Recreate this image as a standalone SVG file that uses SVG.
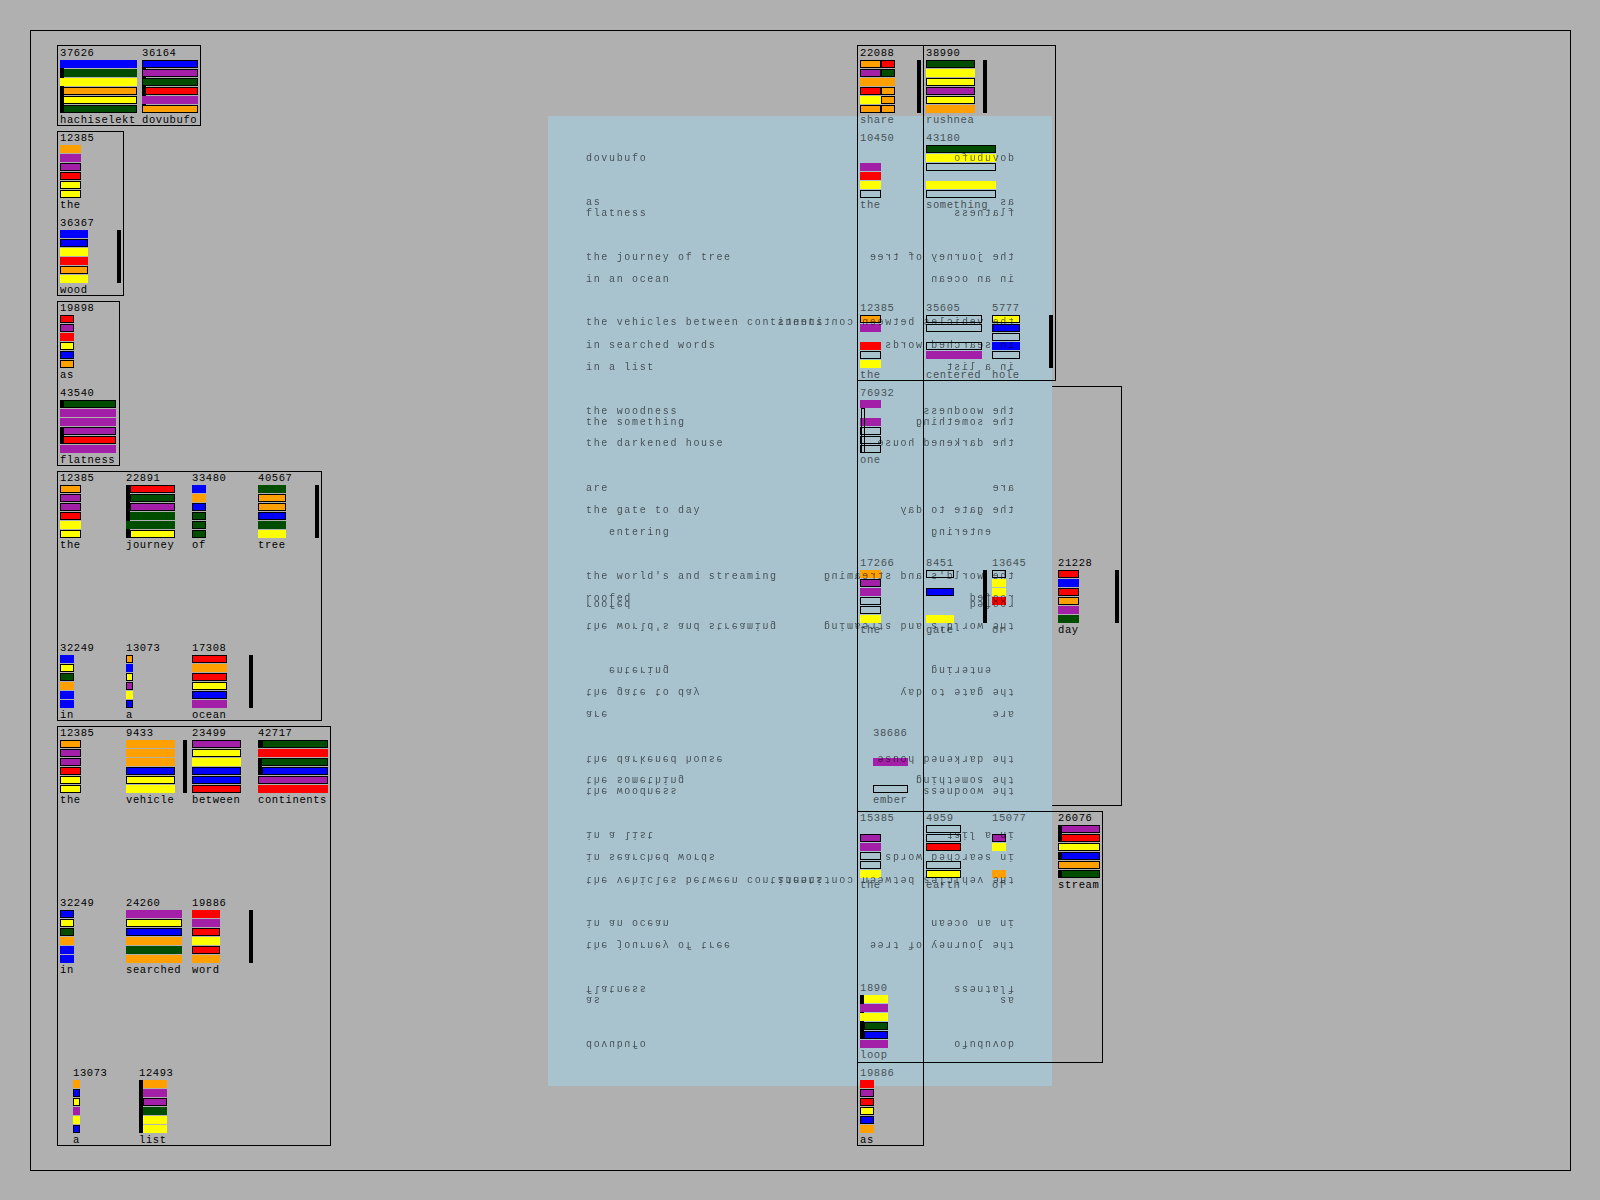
<svg xmlns="http://www.w3.org/2000/svg" xmlns:xlink="http://www.w3.org/1999/xlink" width="1600" height="1200" viewBox="0 0 1600 1200">
<style>
.b{fill:#0000ff}.g{fill:#004d00}.y{fill:#ffff00}.o{fill:#ffa000}.r{fill:#ff0000}.p{fill:#a31fa8}.k{fill:#000}
.s{stroke:#000;stroke-width:1}
.e{fill:none;stroke:#000;stroke-width:1}
.frame{fill:none;stroke:#000;stroke-width:1}
text{font-family:"Liberation Mono","DejaVu Sans Mono",monospace}
.n{font-size:10.5px;letter-spacing:0.6px;fill:#000}
.d{opacity:.6}
.ov text{font-size:10px;letter-spacing:1.67px;fill:#000}
</style>
<defs>
<g id="poem" class="ov">
<text x="586" y="161">dovubufo</text>
<text x="586" y="205">as</text>
<text x="586" y="216">flatness</text>
<text x="586" y="260">the journey of tree</text>
<text x="586" y="282">in an ocean</text>
<text x="586" y="325">the vehicles between continents</text>
<text x="586" y="348">in searched words</text>
<text x="586" y="370">in a list</text>
<text x="586" y="414">the woodness</text>
<text x="586" y="425">the something</text>
<text x="586" y="446">the darkened house</text>
<text x="586" y="491">are</text>
<text x="586" y="513">the gate to day</text>
<text x="609" y="535">entering</text>
<text x="586" y="579">the world's and streaming</text>
<text x="586" y="601">roofed</text>
</g>
</defs>
<rect x="0" y="0" width="1600" height="1200" fill="#b0b0b0"/>
<rect class="frame" x="30.5" y="30.5" width="1540" height="1140"/>
<rect id="panel-r1" class="frame" x="857.5" y="386.5" width="264" height="419"/>
<rect id="overlay" x="548" y="116" width="504" height="970" fill="#a9c3ce"/>

<g id="panels-left">
<rect class="frame" x="57.5" y="45.5" width="143" height="80"/>
<rect class="frame" x="57.5" y="131.5" width="66" height="164"/>
<rect class="frame" x="57.5" y="301.5" width="62" height="164"/>
<rect class="frame" x="57.5" y="471.5" width="264" height="249"/>
<rect class="frame" x="57.5" y="726.5" width="273" height="419"/>
</g>

<g id="node-hachiselekt" transform="translate(60,60)">
<rect class="k" x="0" y="8" width="4" height="45"/>
<rect class="b" x="0" y="0" width="77" height="8"/>
<rect class="g" x="4" y="9" width="73" height="8"/>
<rect class="y" x="0" y="18" width="77" height="8"/>
<rect class="o s" x="3.5" y="27.5" width="73" height="7"/>
<rect class="y s" x="3.5" y="36.5" width="73" height="7"/>
<rect class="g s" x="3.5" y="45.5" width="73" height="7"/>
<text class="n" x="0" y="-4">37626</text>
<text class="n" x="0" y="63">hachiselekt</text>
</g>
<g id="node-dovubufo" transform="translate(142,60)">
<rect class="k" x="0" y="8" width="4" height="37"/>
<rect class="b s" x=".5" y=".5" width="55" height="7"/>
<rect class="p s" x=".5" y="9.5" width="55" height="7"/>
<rect class="g s" x=".5" y="18.5" width="55" height="7"/>
<rect class="r s" x="3.5" y="27.5" width="52" height="7"/>
<rect class="p" x="0" y="36" width="56" height="8"/>
<rect class="o s" x=".5" y="45.5" width="55" height="7"/>
<text class="n" x="0" y="-4">36164</text>
<text class="n" x="0" y="63">dovubufo</text>
</g>
<g id="node-the-1" transform="translate(60,145)">
<rect class="o" x="0" y="0" width="21" height="8"/>
<rect class="p" x="0" y="9" width="21" height="8"/>
<rect class="p s" x=".5" y="18.5" width="20" height="7"/>
<rect class="r s" x=".5" y="27.5" width="20" height="7"/>
<rect class="y s" x=".5" y="36.5" width="20" height="7"/>
<rect class="y s" x=".5" y="45.5" width="20" height="7"/>
<text class="n" x="0" y="-4">12385</text>
<text class="n" x="0" y="63">the</text>
</g>
<g id="node-wood" transform="translate(60,230)">
<rect class="b" x="0" y="0" width="28" height="8"/>
<rect class="b s" x=".5" y="9.5" width="27" height="7"/>
<rect class="y" x="0" y="18" width="28" height="8"/>
<rect class="r" x="0" y="27" width="28" height="8"/>
<rect class="o s" x=".5" y="36.5" width="27" height="7"/>
<rect class="y" x="0" y="45" width="28" height="8"/>
<rect class="k" x="57" y="0" width="4" height="53"/>
<text class="n" x="0" y="-4">36367</text>
<text class="n" x="0" y="63">wood</text>
</g>
<g id="node-as-1" transform="translate(60,315)">
<rect class="r s" x=".5" y=".5" width="13" height="7"/>
<rect class="p s" x=".5" y="9.5" width="13" height="7"/>
<rect class="r" x="0" y="18" width="14" height="8"/>
<rect class="y s" x=".5" y="27.5" width="13" height="7"/>
<rect class="b s" x=".5" y="36.5" width="13" height="7"/>
<rect class="o s" x=".5" y="45.5" width="13" height="7"/>
<text class="n" x="0" y="-4">19898</text>
<text class="n" x="0" y="63">as</text>
</g>
<g id="node-flatness" transform="translate(60,400)">
<rect class="g s" x=".5" y=".5" width="55" height="7"/>
<rect class="p" x="0" y="9" width="56" height="8"/>
<rect class="p" x="0" y="18" width="56" height="8"/>
<rect class="p s" x=".5" y="27.5" width="55" height="7"/>
<rect class="r s" x=".5" y="36.5" width="55" height="7"/>
<rect class="p" x="0" y="45" width="56" height="8"/>
<rect class="k" x="0" y="0" width="4" height="8"/>
<rect class="k" x="0" y="27" width="4" height="17"/>
<text class="n" x="0" y="-4">43540</text>
<text class="n" x="0" y="63">flatness</text>
</g>

<g id="node-the-2" transform="translate(60,485)">
<rect class="o s" x=".5" y=".5" width="20" height="7"/>
<rect class="p s" x=".5" y="9.5" width="20" height="7"/>
<rect class="p s" x=".5" y="18.5" width="20" height="7"/>
<rect class="r s" x=".5" y="27.5" width="20" height="7"/>
<rect class="y" x="0" y="36" width="21" height="8"/>
<rect class="y s" x=".5" y="45.5" width="20" height="7"/>
<text class="n" x="0" y="-4">12385</text>
<text class="n" x="0" y="63">the</text>
</g>
<g id="node-journey" transform="translate(126,485)">
<rect class="k" x="0" y="0" width="4" height="53"/>
<rect class="r s" x="4.5" y=".5" width="44" height="7"/>
<rect class="g s" x="4.5" y="9.5" width="44" height="7"/>
<rect class="p s" x="4.5" y="18.5" width="44" height="7"/>
<rect class="g" x="4" y="27" width="45" height="8"/>
<rect class="g" x="0" y="36" width="49" height="8"/>
<rect class="y s" x="4.5" y="45.5" width="44" height="7"/>
<text class="n" x="0" y="-4">22891</text>
<text class="n" x="0" y="63">journey</text>
</g>
<g id="node-of-1" transform="translate(192,485)">
<rect class="b" x="0" y="0" width="14" height="8"/>
<rect class="o" x="0" y="9" width="14" height="8"/>
<rect class="b s" x=".5" y="18.5" width="13" height="7"/>
<rect class="g s" x=".5" y="27.5" width="13" height="7"/>
<rect class="g s" x=".5" y="36.5" width="13" height="7"/>
<rect class="g s" x=".5" y="45.5" width="13" height="7"/>
<text class="n" x="0" y="-4">33480</text>
<text class="n" x="0" y="63">of</text>
</g>
<g id="node-tree" transform="translate(258,485)">
<rect class="g" x="0" y="0" width="28" height="8"/>
<rect class="o s" x=".5" y="9.5" width="27" height="7"/>
<rect class="o s" x=".5" y="18.5" width="27" height="7"/>
<rect class="b s" x=".5" y="27.5" width="27" height="7"/>
<rect class="g" x="0" y="36" width="28" height="8"/>
<rect class="y" x="0" y="45" width="28" height="8"/>
<rect class="k" x="57" y="0" width="4" height="53"/>
<text class="n" x="0" y="-4">40567</text>
<text class="n" x="0" y="63">tree</text>
</g>
<g id="node-in-1" transform="translate(60,655)">
<rect class="b" x="0" y="0" width="14" height="8"/>
<rect class="y s" x=".5" y="9.5" width="13" height="7"/>
<rect class="g s" x=".5" y="18.5" width="13" height="7"/>
<rect class="o" x="0" y="27" width="14" height="8"/>
<rect class="b" x="0" y="36" width="14" height="8"/>
<rect class="b" x="0" y="45" width="14" height="8"/>
<text class="n" x="0" y="-4">32249</text>
<text class="n" x="0" y="63">in</text>
</g>
<g id="node-a-1" transform="translate(126,655)">
<rect class="o s" x=".5" y=".5" width="6" height="7"/>
<rect class="b" x="0" y="9" width="7" height="8"/>
<rect class="y s" x=".5" y="18.5" width="6" height="7"/>
<rect class="p s" x=".5" y="27.5" width="6" height="7"/>
<rect class="y" x="0" y="36" width="7" height="8"/>
<rect class="b s" x=".5" y="45.5" width="6" height="7"/>
<text class="n" x="0" y="-4">13073</text>
<text class="n" x="0" y="63">a</text>
</g>
<g id="node-ocean" transform="translate(192,655)">
<rect class="r s" x=".5" y=".5" width="34" height="7"/>
<rect class="o" x="0" y="9" width="35" height="8"/>
<rect class="r s" x=".5" y="18.5" width="34" height="7"/>
<rect class="y s" x=".5" y="27.5" width="34" height="7"/>
<rect class="b s" x=".5" y="36.5" width="34" height="7"/>
<rect class="p" x="0" y="45" width="35" height="8"/>
<rect class="k" x="57" y="0" width="4" height="53"/>
<text class="n" x="0" y="-4">17308</text>
<text class="n" x="0" y="63">ocean</text>
</g>

<g id="node-the-3" transform="translate(60,740)">
<rect class="o s" x=".5" y=".5" width="20" height="7"/>
<rect class="p s" x=".5" y="9.5" width="20" height="7"/>
<rect class="p s" x=".5" y="18.5" width="20" height="7"/>
<rect class="r s" x=".5" y="27.5" width="20" height="7"/>
<rect class="y s" x=".5" y="36.5" width="20" height="7"/>
<rect class="y s" x=".5" y="45.5" width="20" height="7"/>
<text class="n" x="0" y="-4">12385</text>
<text class="n" x="0" y="63">the</text>
</g>
<g id="node-vehicle" transform="translate(126,740)">
<rect class="o" x="0" y="0" width="49" height="8"/>
<rect class="o" x="0" y="9" width="49" height="8"/>
<rect class="o" x="0" y="18" width="49" height="8"/>
<rect class="b s" x=".5" y="27.5" width="48" height="7"/>
<rect class="y s" x=".5" y="36.5" width="48" height="7"/>
<rect class="y" x="0" y="45" width="49" height="8"/>
<rect class="k" x="57" y="0" width="4" height="53"/>
<text class="n" x="0" y="-4">9433</text>
<text class="n" x="0" y="63">vehicle</text>
</g>
<g id="node-between" transform="translate(192,740)">
<rect class="p s" x=".5" y=".5" width="48" height="7"/>
<rect class="y s" x=".5" y="9.5" width="48" height="7"/>
<rect class="y" x="0" y="18" width="49" height="8"/>
<rect class="b s" x=".5" y="27.5" width="48" height="7"/>
<rect class="b s" x=".5" y="36.5" width="48" height="7"/>
<rect class="r s" x=".5" y="45.5" width="48" height="7"/>
<text class="n" x="0" y="-4">23499</text>
<text class="n" x="0" y="63">between</text>
</g>
<g id="node-continents" transform="translate(258,740)">
<rect class="g s" x="4.5" y=".5" width="65" height="7"/>
<rect class="r" x="0" y="9" width="70" height="8"/>
<rect class="g s" x=".5" y="18.5" width="69" height="7"/>
<rect class="b s" x="4.5" y="27.5" width="65" height="7"/>
<rect class="p s" x=".5" y="36.5" width="69" height="7"/>
<rect class="r" x="0" y="45" width="70" height="8"/>
<rect class="k" x="0" y="0" width="4" height="8"/>
<rect class="k" x="0" y="19" width="4" height="16"/>
<text class="n" x="0" y="-4">42717</text>
<text class="n" x="0" y="63">continents</text>
</g>
<g id="node-in-2" transform="translate(60,910)">
<rect class="b s" x=".5" y=".5" width="13" height="7"/>
<rect class="y s" x=".5" y="9.5" width="13" height="7"/>
<rect class="g s" x=".5" y="18.5" width="13" height="7"/>
<rect class="o" x="0" y="27" width="14" height="8"/>
<rect class="b" x="0" y="36" width="14" height="8"/>
<rect class="b" x="0" y="45" width="14" height="8"/>
<text class="n" x="0" y="-4">32249</text>
<text class="n" x="0" y="63">in</text>
</g>
<g id="node-searched" transform="translate(126,910)">
<rect class="p" x="0" y="0" width="56" height="8"/>
<rect class="y s" x=".5" y="9.5" width="55" height="7"/>
<rect class="b s" x=".5" y="18.5" width="55" height="7"/>
<rect class="o" x="0" y="27" width="56" height="8"/>
<rect class="g" x="0" y="36" width="56" height="8"/>
<rect class="o" x="0" y="45" width="56" height="8"/>
<text class="n" x="0" y="-4">24260</text>
<text class="n" x="0" y="63">searched</text>
</g>
<g id="node-word" transform="translate(192,910)">
<rect class="r" x="0" y="0" width="28" height="8"/>
<rect class="p" x="0" y="9" width="28" height="8"/>
<rect class="r s" x=".5" y="18.5" width="27" height="7"/>
<rect class="y" x="0" y="27" width="28" height="8"/>
<rect class="r s" x=".5" y="36.5" width="27" height="7"/>
<rect class="o" x="0" y="45" width="28" height="8"/>
<rect class="k" x="57" y="0" width="4" height="53"/>
<text class="n" x="0" y="-4">19886</text>
<text class="n" x="0" y="63">word</text>
</g>
<g id="node-a-2" transform="translate(73,1080)">
<rect class="o" x="0" y="0" width="7" height="8"/>
<rect class="b s" x=".5" y="9.5" width="6" height="7"/>
<rect class="y s" x=".5" y="18.5" width="6" height="7"/>
<rect class="p" x="0" y="27" width="7" height="8"/>
<rect class="y" x="0" y="36" width="7" height="8"/>
<rect class="b s" x=".5" y="45.5" width="6" height="7"/>
<text class="n" x="0" y="-4">13073</text>
<text class="n" x="0" y="63">a</text>
</g>
<g id="node-list" transform="translate(139,1080)">
<rect class="k" x="0" y="0" width="4" height="53"/>
<rect class="o" x="4" y="0" width="24" height="8"/>
<rect class="p" x="4" y="9" width="24" height="8"/>
<rect class="p s" x="4.5" y="18.5" width="23" height="7"/>
<rect class="g" x="4" y="27" width="24" height="8"/>
<rect class="y" x="4" y="36" width="24" height="8"/>
<rect class="y" x="4" y="45" width="24" height="8"/>
<text class="n" x="0" y="-4">12493</text>
<text class="n" x="0" y="63">list</text>
</g>

<g id="panels-right">
<rect class="frame" x="857.5" y="45.5" width="198" height="335"/>
<rect class="frame" x="857.5" y="45.5" width="66" height="1100"/>
<rect class="frame" x="857.5" y="811.5" width="245" height="251"/>
</g>

<g id="node-share" transform="translate(860,60)">
<rect class="o s" x=".5" y=".5" width="20" height="7"/><rect class="r s" x="21.5" y=".5" width="13" height="7"/>
<rect class="p s" x=".5" y="9.5" width="20" height="7"/><rect class="g s" x="21.5" y="9.5" width="13" height="7"/>
<rect class="o" x="0" y="18" width="35" height="8"/>
<rect class="r s" x=".5" y="27.5" width="20" height="7"/><rect class="o s" x="21.5" y="27.5" width="13" height="7"/>
<rect class="y" x="0" y="36" width="21" height="8"/><rect class="o s" x="21.5" y="36.5" width="13" height="7"/>
<rect class="o s" x=".5" y="45.5" width="20" height="7"/><rect class="o s" x="21.5" y="45.5" width="13" height="7"/>
<rect class="k" x="57" y="0" width="4" height="53"/>
<text class="n" x="0" y="-4">22088</text>
<text class="n d" x="0" y="63">share</text>
</g>
<g id="node-rushnea" transform="translate(926,60)">
<rect class="g s" x=".5" y=".5" width="48" height="7"/>
<rect class="y" x="0" y="9" width="49" height="8"/>
<rect class="y s" x=".5" y="18.5" width="48" height="7"/>
<rect class="p s" x=".5" y="27.5" width="48" height="7"/>
<rect class="y s" x=".5" y="36.5" width="48" height="7"/>
<rect class="o" x="0" y="45" width="49" height="8"/>
<rect class="k" x="57" y="0" width="4" height="53"/>
<text class="n" x="0" y="-4">38990</text>
<text class="n d" x="0" y="63">rushnea</text>
</g>
<g id="node-the-4" transform="translate(860,145)">
<rect class="p" x="0" y="18" width="21" height="8"/>
<rect class="r" x="0" y="27" width="21" height="8"/>
<rect class="y" x="0" y="36" width="21" height="8"/>
<rect class="e" x=".5" y="45.5" width="20" height="7"/>
<text class="n d" x="0" y="-4">10450</text>
<text class="n d" x="0" y="63">the</text>
</g>
<g id="node-something" transform="translate(926,145)">
<rect class="g s" x=".5" y=".5" width="69" height="7"/>
<rect class="y" x="0" y="9" width="70" height="8"/>
<rect class="e" x=".5" y="18.5" width="69" height="7"/>
<rect class="y" x="0" y="36" width="70" height="8"/>
<rect class="e" x=".5" y="45.5" width="69" height="7"/>
<text class="n d" x="0" y="-4">43180</text>
<text class="n d" x="0" y="63">something</text>
</g>
<g id="node-the-5" transform="translate(860,315)">
<rect class="o s" x=".5" y=".5" width="20" height="7"/>
<rect class="p" x="0" y="9" width="21" height="8"/>
<rect class="r" x="0" y="27" width="21" height="8"/>
<rect class="e" x=".5" y="36.5" width="20" height="7"/>
<rect class="y" x="0" y="45" width="21" height="8"/>
<text class="n d" x="0" y="-4">12385</text>
<text class="n d" x="0" y="63">the</text>
</g>
<g id="node-centered" transform="translate(926,315)">
<rect class="e" x=".5" y=".5" width="55" height="7"/>
<rect class="e" x=".5" y="9.5" width="55" height="7"/>
<rect class="e" x=".5" y="27.5" width="55" height="7"/>
<rect class="p" x="0" y="36" width="56" height="8"/>
<text class="n d" x="0" y="-4">35605</text>
<text class="n d" x="0" y="63">centered</text>
</g>
<g id="node-hole" transform="translate(992,315)">
<rect class="y s" x=".5" y=".5" width="27" height="7"/>
<rect class="b s" x=".5" y="9.5" width="27" height="7"/>
<rect class="e" x=".5" y="18.5" width="27" height="7"/>
<rect class="b" x="0" y="27" width="28" height="8"/>
<rect class="e" x=".5" y="36.5" width="27" height="7"/>
<rect class="k" x="57" y="0" width="4" height="53"/>
<text class="n d" x="0" y="-4">5777</text>
<text class="n d" x="0" y="63">hole</text>
</g>
<g id="node-one" transform="translate(860,400)">
<rect class="p" x="0" y="0" width="21" height="8"/>
<rect class="p" x="0" y="18" width="21" height="8"/>
<rect class="e" x=".5" y="27.5" width="20" height="7"/>
<rect class="e" x=".5" y="36.5" width="20" height="7"/>
<rect class="e" x=".5" y="45.5" width="20" height="7"/>
<rect class="e" x="1.5" y="8.5" width="3" height="44"/>
<text class="n d" x="0" y="-4">76932</text>
<text class="n d" x="0" y="63">one</text>
</g>
<g id="node-the-6" transform="translate(860,570)">
<rect class="o" x="0" y="0" width="21" height="8"/>
<rect class="p s" x=".5" y="9.5" width="20" height="7"/>
<rect class="p" x="0" y="18" width="21" height="8"/>
<rect class="e" x=".5" y="27.5" width="20" height="7"/>
<rect class="e" x=".5" y="36.5" width="20" height="7"/>
<rect class="y" x="0" y="45" width="21" height="8"/>
<text class="n d" x="0" y="-4">17266</text>
<text class="n d" x="0" y="63">the</text>
</g>
<g id="node-gate" transform="translate(926,570)">
<rect class="e" x=".5" y=".5" width="27" height="7"/>
<rect class="b s" x=".5" y="18.5" width="27" height="7"/>
<rect class="y" x="0" y="45" width="28" height="8"/>
<text class="n d" x="0" y="-4">8451</text>
<text class="n d" x="0" y="63">gate</text>
</g>
<g id="node-or" transform="translate(992,570)">
<rect class="e" x=".5" y=".5" width="13" height="7"/>
<rect class="y" x="0" y="9" width="14" height="8"/>
<rect class="y" x="0" y="18" width="14" height="8"/>
<rect class="r" x="0" y="27" width="14" height="8"/>
<rect class="k" x="-9" y="0" width="4" height="53"/>
<text class="n d" x="0" y="-4">13645</text>
<text class="n d" x="0" y="63">or</text>
</g>
<g id="node-day" transform="translate(1058,570)">
<rect class="r s" x=".5" y=".5" width="20" height="7"/>
<rect class="b" x="0" y="9" width="21" height="8"/>
<rect class="r s" x=".5" y="18.5" width="20" height="7"/>
<rect class="o s" x=".5" y="27.5" width="20" height="7"/>
<rect class="p" x="0" y="36" width="21" height="8"/>
<rect class="g" x="0" y="45" width="21" height="8"/>
<rect class="k" x="57" y="0" width="4" height="53"/>
<text class="n" x="0" y="-4">21228</text>
<text class="n" x="0" y="63">day</text>
</g>
<g id="node-ember" transform="translate(873,740)">
<rect class="p" x="0" y="18" width="35" height="8"/>
<rect class="e" x=".5" y="45.5" width="34" height="7"/>
<text class="n d" x="0" y="-4">38686</text>
<text class="n d" x="0" y="63">ember</text>
</g>
<g id="node-the-7" transform="translate(860,825)">
<rect class="p s" x=".5" y="9.5" width="20" height="7"/>
<rect class="p" x="0" y="18" width="21" height="8"/>
<rect class="e" x=".5" y="27.5" width="20" height="7"/>
<rect class="e" x=".5" y="36.5" width="20" height="7"/>
<rect class="y" x="0" y="45" width="21" height="8"/>
<text class="n d" x="0" y="-4">15385</text>
<text class="n d" x="0" y="63">the</text>
</g>
<g id="node-earth" transform="translate(926,825)">
<rect class="e" x=".5" y=".5" width="34" height="7"/>
<rect class="e" x=".5" y="9.5" width="34" height="7"/>
<rect class="r s" x=".5" y="18.5" width="34" height="7"/>
<rect class="e" x=".5" y="36.5" width="34" height="7"/>
<rect class="y s" x=".5" y="45.5" width="34" height="7"/>
<text class="n d" x="0" y="-4">4959</text>
<text class="n d" x="0" y="63">earth</text>
</g>
<g id="node-of-2" transform="translate(992,825)">
<rect class="p s" x=".5" y="9.5" width="13" height="7"/>
<rect class="y" x="0" y="18" width="14" height="8"/>
<rect class="o" x="0" y="45" width="14" height="8"/>
<text class="n d" x="0" y="-4">15077</text>
<text class="n d" x="0" y="63">of</text>
</g>
<g id="node-stream" transform="translate(1058,825)">
<rect class="p s" x=".5" y=".5" width="41" height="7"/>
<rect class="r s" x=".5" y="9.5" width="41" height="7"/>
<rect class="y s" x=".5" y="18.5" width="41" height="7"/>
<rect class="b s" x=".5" y="27.5" width="41" height="7"/>
<rect class="o s" x=".5" y="36.5" width="41" height="7"/>
<rect class="g s" x=".5" y="45.5" width="41" height="7"/>
<rect class="k" x="0" y="0" width="4" height="17"/>
<rect class="k" x="0" y="27" width="4" height="8"/>
<rect class="k" x="0" y="45" width="4" height="8"/>
<text class="n" x="0" y="-4">26076</text>
<text class="n" x="0" y="63">stream</text>
</g>
<g id="node-loop" transform="translate(860,995)">
<rect class="k" x="0" y="0" width="4" height="44"/>
<rect class="y" x="4" y="0" width="24" height="8"/>
<rect class="p" x="0" y="9" width="28" height="8"/>
<rect class="y" x="0" y="18" width="28" height="8"/>
<rect class="g s" x="4.5" y="27.5" width="23" height="7"/>
<rect class="b s" x="4.5" y="36.5" width="23" height="7"/>
<rect class="p" x="0" y="45" width="28" height="8"/>
<text class="n d" x="0" y="-4">1890</text>
<text class="n d" x="0" y="63">loop</text>
</g>
<g id="node-as-2" transform="translate(860,1080)">
<rect class="r" x="0" y="0" width="14" height="8"/>
<rect class="p s" x=".5" y="9.5" width="13" height="7"/>
<rect class="r s" x=".5" y="18.5" width="13" height="7"/>
<rect class="y s" x=".5" y="27.5" width="13" height="7"/>
<rect class="b s" x=".5" y="36.5" width="13" height="7"/>
<rect class="o" x="0" y="45" width="14" height="8"/>
<text class="n d" x="0" y="-4">19886</text>
<text class="n" x="0" y="63">as</text>
</g>

<g id="connectors"></g>

<g id="overlay-text" opacity="0.6">
<use xlink:href="#poem" href="#poem"/>
<use xlink:href="#poem" href="#poem" transform="matrix(-1 0 0 1 1600 0)"/>
<use xlink:href="#poem" href="#poem" transform="matrix(1 0 0 -1 0 1202)"/>
<use xlink:href="#poem" href="#poem" transform="matrix(-1 0 0 -1 1600 1202)"/>
</g>
</svg>
